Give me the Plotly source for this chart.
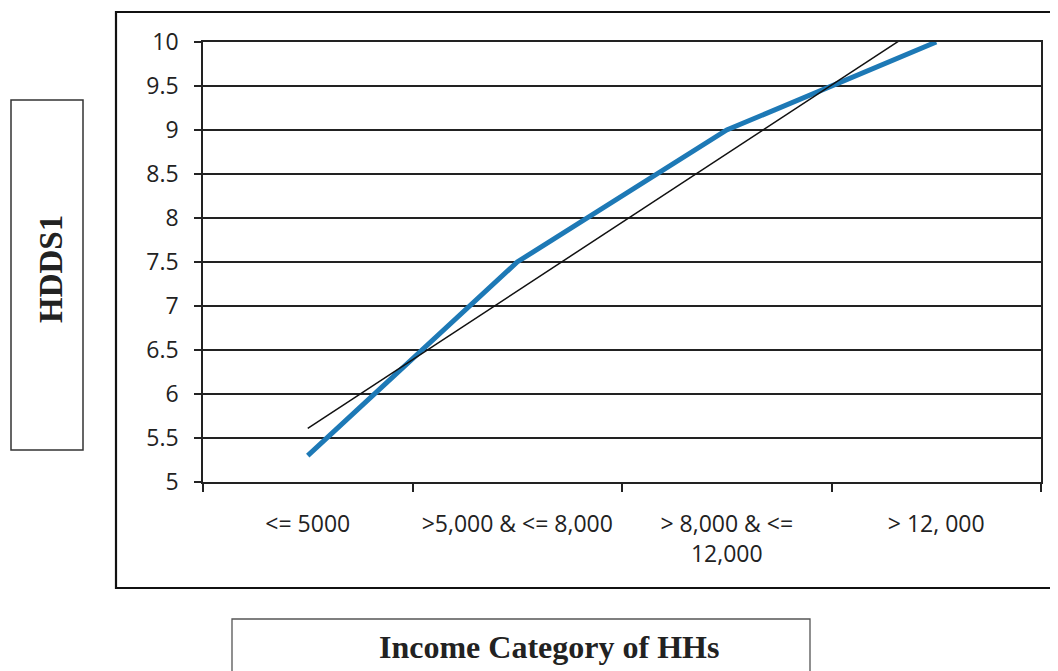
import numpy as np
import plotly.graph_objects as go

categories = ["<= 5000", ">5,000 & <= 8,000", "> 8,000 & <=\n12,000", "> 12, 000"]
hdds1 = [5.3, 7.5, 9.0, 10.0]
y_ticks = [5, 5.5, 6, 6.5, 7, 7.5, 8, 8.5, 9, 9.5, 10]
y_tick_labels = ["5", "5.5", "6", "6.5", "7", "7.5", "8", "8.5", "9", "9.5", "10"]

# linear trendline (as in the spreadsheet chart)
xi = np.arange(len(hdds1))
slope, intercept = np.polyfit(xi, hdds1, 1)
trend = [intercept + slope * i for i in xi]

OFF = 8  # page body margin
W, H = 1058, 671
L, R, T, B = 203 - OFF, 1041 - OFF, 42 - OFF, 482 - OFF


def px(x):
    return (x - OFF - L) / (R - L)


def py(y):
    return (B - (y - OFF)) / (B - T)


def esc(s):
    return s.replace("&", "&amp;").replace("<", "&lt;").replace(">", "&gt;").replace("\n", "<br>")


fig = go.Figure()
fig.add_trace(go.Scatter(x=categories, y=hdds1, mode="lines",
                         line=dict(color="#1d79b6", width=5), showlegend=False))
fig.add_trace(go.Scatter(x=categories, y=trend, mode="lines",
                         line=dict(color="#111111", width=1.5), showlegend=False))

fig.update_layout(
    width=W, height=H,
    margin=dict(l=L, r=W - R, t=T, b=H - B),
    paper_bgcolor="white", plot_bgcolor="white",
    showlegend=False,
    font=dict(family="Open Sans", size=23, color="#222222"),
)
fig.update_xaxes(
    type="category", range=[-0.5, 3.5],
    tickmode="array", tickvals=categories, ticktext=[esc(c) for c in categories],
    tickson="boundaries", ticks="outside", ticklen=8, tickwidth=1.5, tickcolor="#222",
    showline=True, linecolor="#222", linewidth=1.5, mirror=True,
    showgrid=False, ticklabelstandoff=21,
    tickfont=dict(family="Open Sans", size=23, color="#222"),
)
fig.update_yaxes(
    range=[5, 10], tickmode="array", tickvals=y_ticks, ticktext=y_tick_labels,
    ticks="outside", ticklen=7, tickwidth=1.5, tickcolor="#222",
    showline=True, linecolor="#222", linewidth=1.5, mirror=True,
    showgrid=True, gridcolor="#222", gridwidth=1.5, zeroline=False,
    ticklabelstandoff=11,
    tickfont=dict(family="Open Sans", size=23, color="#222"),
)

shapes = [
    # outer chart border
    dict(type="rect", xref="paper", yref="paper", x0=px(116), x1=px(1070), y0=py(588), y1=py(12),
         line=dict(color="#111", width=2.2), layer="below"),
    # y title box
    dict(type="rect", xref="paper", yref="paper", x0=px(11), x1=px(83), y0=py(450), y1=py(100),
         line=dict(color="#333", width=1.5)),
    # x title box
    dict(type="rect", xref="paper", yref="paper", x0=px(232), x1=px(810), y0=py(700), y1=py(619),
         line=dict(color="#555", width=1.3)),
]
fig.update_layout(shapes=shapes)

fig.add_annotation(text="<b>HDDS1</b>", xref="paper", yref="paper", x=px(51), y=py(269),
                   showarrow=False, textangle=-90, xanchor="center", yanchor="middle",
                   font=dict(family="Liberation Serif", size=33, color="#222"))
fig.add_annotation(text="<b>Income Category of HHs</b>", xref="paper", yref="paper", x=px(549), y=py(647),
                   showarrow=False, xanchor="center", yanchor="middle",
                   font=dict(family="Liberation Serif", size=32, color="#222"))

fig.write_html("out.html")
